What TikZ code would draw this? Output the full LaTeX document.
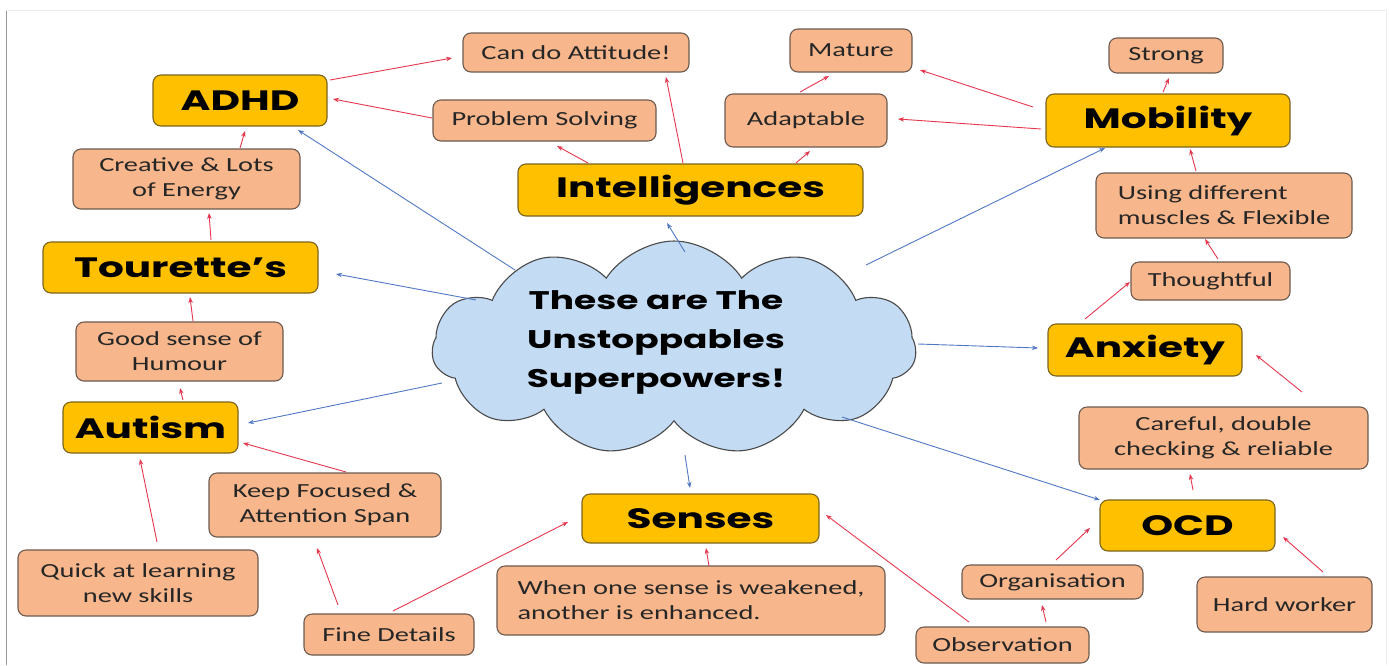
\documentclass[tikz,border=0pt]{standalone}
\usepackage{fontspec}
\usetikzlibrary{shapes.symbols,arrows.meta}
\newfontfamily\boxfont[FakeStretch=1.42]{Carlito}
\newfontfamily\headfont[FakeStretch=1.45]{Poppins}
\newfontfamily\cloudfont[FakeStretch=1.41]{Poppins}
\definecolor{ylw}{HTML}{FFC000}
\definecolor{ylwb}{HTML}{7A6420}
\definecolor{org}{HTML}{F7B68B}
\definecolor{orgb}{HTML}{6E5A4E}
\definecolor{cld}{HTML}{C3DBF3}
\definecolor{cldb}{HTML}{4A4A4A}
\definecolor{rarr}{HTML}{E5374E}
\definecolor{barr}{HTML}{5078C4}
\tikzset{
  mainbox/.style={draw=ylwb, fill=ylw, rounded corners=8pt, line width=1.1pt, inner sep=0pt, font=\headfont\bfseries\fontsize{28}{32}\selectfont},
  subbox/.style={draw=orgb, fill=org, rounded corners=8pt, line width=1.1pt, inner sep=0pt, align=center, font=\boxfont\fontsize{20}{25}\selectfont, text=black!85},
  ra/.style={draw=rarr, line width=0.9pt, -{Stealth[length=6pt,width=4.5pt]}},
  ba/.style={draw=barr, line width=0.9pt, -{Stealth[length=6pt,width=4.5pt]}}
}
\begin{document}
\begin{tikzpicture}[x=1pt,y=-1pt]
\fill[white] (0,0) rectangle (1390,665);
\useasboundingbox (0,0) rectangle (1390,665);
\draw[black!40, line width=1pt] (6,665) -- (6,10);
\draw[black!8, line width=1pt] (6,10) -- (1386,10) -- (1386,665);

% cloud
\node[cloud, cloud puffs=11, cloud puff arc=115, aspect=2.25, minimum width=484pt, minimum height=214pt, inner sep=0pt, draw=cldb, fill=cld, line width=1.1pt] (cloud) at (674,348) {};
\node[font=\cloudfont\bfseries\fontsize{25.5}{39}\selectfont, align=center] (ctext) at (656,342) {These are The\\Unstoppables\\Superpowers!};

% main boxes
\node[mainbox, minimum width=174pt, minimum height=51pt] (adhd) at (240,100.5) {ADHD};
\node[mainbox, minimum width=345pt, minimum height=52pt] (intel) at (690.5,190) {Intelligences};
\node[mainbox, minimum width=244pt, minimum height=53pt] (mob) at (1168,120.5) {Mobility};
\node[mainbox, minimum width=275pt, minimum height=51pt] (tour) at (180.5,267.5) {Tourette’s};
\node[mainbox, minimum width=194pt, minimum height=52pt] (anx) at (1145,350) {Anxiety};
\node[mainbox, minimum width=175pt, minimum height=51pt] (aut) at (150.5,427.5) {Autism};
\node[mainbox, minimum width=237pt, minimum height=49pt] (sens) at (700.5,518.5) {Senses};
\node[mainbox, minimum width=175pt, minimum height=51pt] (ocd) at (1187.5,525.5) {OCD};

% sub boxes
\node[subbox, minimum width=226pt, minimum height=39pt] (can) at (576,52.5) {Can do Attitude!};
\node[subbox, minimum width=223pt, minimum height=41pt] (prob) at (544.5,120.5) {Problem Solving};
\node[subbox, minimum width=122pt, minimum height=43pt] (mat) at (851,50.5) {Mature};
\node[subbox, minimum width=162pt, minimum height=53pt] (adapt) at (806,120.5) {Adaptable};
\node[subbox, minimum width=114pt, minimum height=35pt] (strong) at (1166,55.5) {Strong};
\node[subbox, minimum width=256pt, minimum height=65pt, align=left] (using) at (1224,205.5) {Using different\\muscles \& Flexible};
\node[subbox, minimum width=159pt, minimum height=38pt] (thought) at (1210.5,281) {Thoughtful};
\node[subbox, minimum width=227pt, minimum height=60pt] (creat) at (186.5,179) {Creative \& Lots\\of Energy};
\node[subbox, minimum width=207pt, minimum height=59pt] (good) at (179.5,351.5) {Good sense of\\Humour};
\node[subbox, minimum width=289pt, minimum height=62pt] (care) at (1223.5,438) {Careful, double\\checking \& reliable};
\node[subbox, minimum width=232pt, minimum height=64pt] (keep) at (325,505) {Keep Focused \&\\Attention Span};
\node[subbox, minimum width=240pt, minimum height=66pt] (quick) at (138,583) {Quick at learning\\new skills};
\node[subbox, minimum width=170pt, minimum height=41pt] (fine) at (389,634.5) {Fine Details};
\node[subbox, minimum width=388pt, minimum height=69pt, align=left] (when) at (691,600.5) {When one sense is weakened,\\another is enhanced.};
\node[subbox, minimum width=181pt, minimum height=34pt] (organ) at (1052.5,582) {Organisation};
\node[subbox, minimum width=173pt, minimum height=36pt] (obs) at (1002.5,645) {Observation};
\node[subbox, minimum width=175pt, minimum height=55pt] (hard) at (1284.5,604.5) {Hard worker};

% red arrows
\draw[ra] ([shift={(90,-20.5)}]adhd.center) -- ([shift={(-124,5.5)}]can.center);
\draw[ra] ([shift={(-112.5,-2.5)}]prob.center) -- ([shift={(93,-1.5)}]adhd.center);
\draw[ra] ([shift={(-102.5,-27)}]intel.center) -- ([shift={(12.5,25.5)}]prob.center);
\draw[ra] ([shift={(-7.5,-27)}]intel.center) -- ([shift={(90,24.5)}]can.center);
\draw[ra] ([shift={(105.5,-27)}]intel.center) -- ([shift={(4,30.5)}]adapt.center);
\draw[ra] ([shift={(-6,-28.5)}]adapt.center) -- ([shift={(-22,25.5)}]mat.center);
\draw[ra] ([shift={(-135,-13.5)}]mob.center) -- ([shift={(69,19.5)}]mat.center);
\draw[ra] ([shift={(-127,8.5)}]mob.center) -- ([shift={(92,-1.5)}]adapt.center);
\draw[ra] ([shift={(-5,-28.5)}]mob.center) -- ([shift={(3,22.5)}]strong.center);
\draw[ra] ([shift={(-28,-34.5)}]using.center) -- ([shift={(22,28.5)}]mob.center);
\draw[ra] ([shift={(7.5,-22)}]thought.center) -- ([shift={(-19,33.5)}]using.center);
\draw[ra] ([shift={(-60,-31)}]anx.center) -- ([shift={(-80.5,1)}]thought.center);
\draw[ra] ([shift={(78.5,-46)}]care.center) -- ([shift={(111,5)}]anx.center);
\draw[ra] ([shift={(5.5,-35.5)}]ocd.center) -- ([shift={(-33.5,36)}]care.center);
\draw[ra] ([shift={(38.5,-32.5)}]hard.center) -- ([shift={(95.5,11.5)}]ocd.center);
\draw[ra] ([shift={(3.5,-22)}]organ.center) -- ([shift={(-97.5,2.5)}]ocd.center);
\draw[ra] ([shift={(43.5,-23)}]obs.center) -- ([shift={(-10.5,23)}]organ.center);
\draw[ra] ([shift={(-33.5,-23)}]obs.center) -- ([shift={(125.5,-3.5)}]sens.center);
\draw[ra] ([shift={(18,-34.5)}]when.center) -- ([shift={(5.5,29.5)}]sens.center);
\draw[ra] ([shift={(4,-23.5)}]fine.center) -- ([shift={(-132.5,3.5)}]sens.center);
\draw[ra] ([shift={(-51,-29.5)}]fine.center) -- ([shift={(-8,43)}]keep.center);
\draw[ra] ([shift={(21,-33)}]keep.center) -- ([shift={(92.5,15.5)}]aut.center);
\draw[ra] ([shift={(19,-41)}]quick.center) -- ([shift={(-10.5,31.5)}]aut.center);
\draw[ra] ([shift={(32.5,-27.5)}]aut.center) -- ([shift={(0.5,36.5)}]good.center);
\draw[ra] ([shift={(13.5,-30.5)}]good.center) -- ([shift={(9.5,29.5)}]tour.center);
\draw[ra] ([shift={(30.5,-27.5)}]tour.center) -- ([shift={(22.5,34)}]creat.center);
\draw[ra] ([shift={(53.5,-31)}]creat.center) -- ([shift={(5,30.5)}]adhd.center);

% blue arrows
\draw[ba] ([shift={(-159,-78)}]cloud.center) -- ([shift={(58,29.5)}]adhd.center);
\draw[ba] ([shift={(11,-96)}]cloud.center) -- ([shift={(-23.5,33)}]intel.center);
\draw[ba] ([shift={(192,-83)}]cloud.center) -- ([shift={(-63,27.5)}]mob.center);
\draw[ba] ([shift={(-198,-48)}]cloud.center) -- ([shift={(155.5,6.5)}]tour.center);
\draw[ba] ([shift={(244,-4)}]cloud.center) -- ([shift={(-107,-2)}]anx.center);
\draw[ba] ([shift={(-232,35)}]cloud.center) -- ([shift={(97.5,-4.5)}]aut.center);
\draw[ba] ([shift={(11,107)}]cloud.center) -- ([shift={(-10.5,-30.5)}]sens.center);
\draw[ba] ([shift={(168,69)}]cloud.center) -- ([shift={(-87.5,-25.5)}]ocd.center);
\end{tikzpicture}
\end{document}
